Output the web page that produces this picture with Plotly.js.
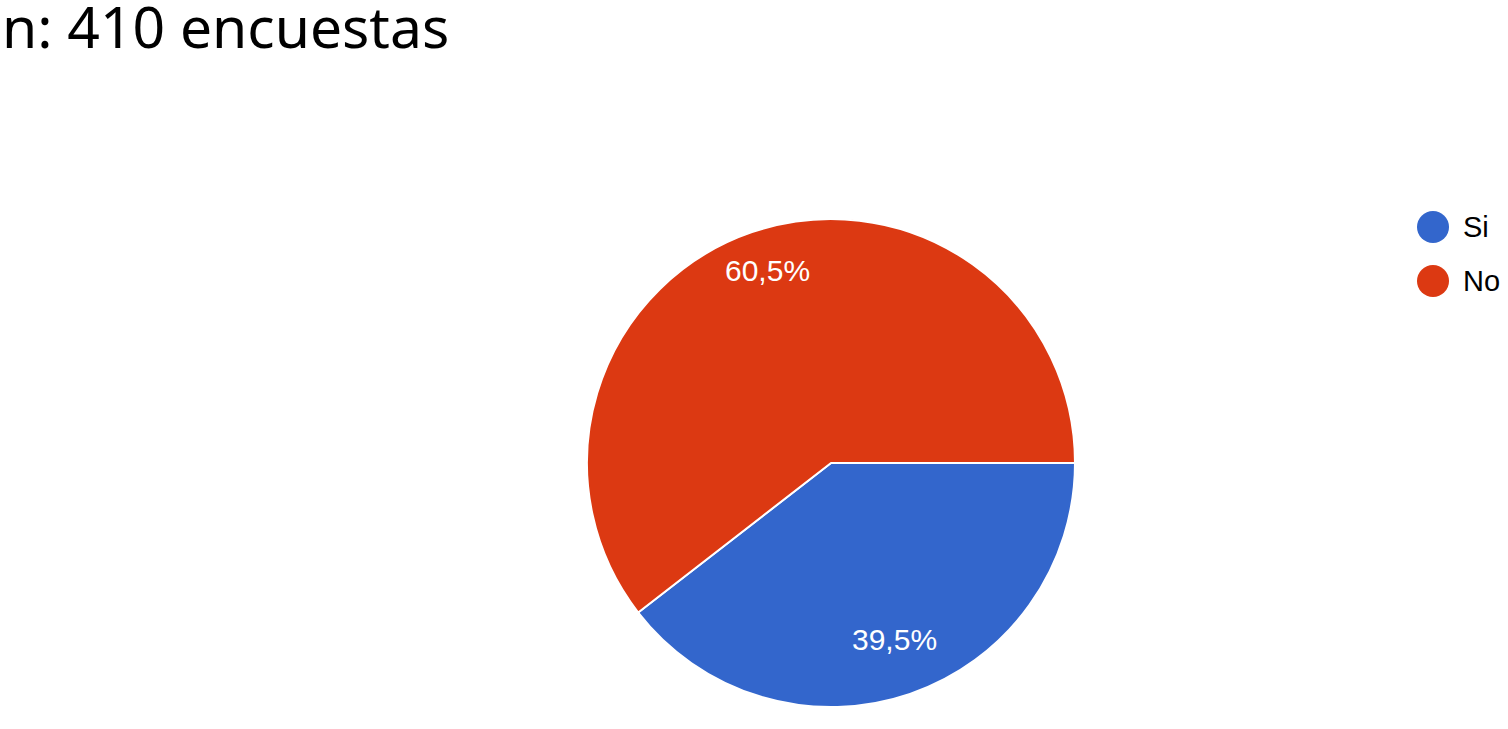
<!DOCTYPE html>
<html>
<head>
<meta charset="utf-8">
<script src="https://cdn.plot.ly/plotly-3.0.1.min.js"></script>
<style>html,body{margin:0;padding:0;background:#fff;}#chart{width:1508px;height:729px;}</style>
</head>
<body>
<div id="chart"></div>
<script>
const categories = ["Si", "No"];
const values = [39.5, 60.5];
const colors = ["#3366CC", "#DC3912"];
const titleText = "n: 410 encuestas";

const W = 1508, H = 729;
const cx = 831, cy = 463, R = 244;
const startDeg = 0;          // 3 o'clock, clockwise
const labelFrac = 0.8;

const pie = {
  type: "pie",
  labels: categories,
  values: values,
  sort: false,
  direction: "clockwise",
  rotation: 90,
  marker: { colors: colors, line: { color: "#ffffff", width: 2 } },
  textinfo: "none",
  hoverinfo: "label+percent",
  showlegend: false,
  domain: { x: [(cx - R) / W, (cx + R) / W], y: [(H - cy - R) / H, (H - cy + R) / H] }
};

const shapes = [];
const annotations = [];
const total = values.reduce((a, b) => a + b, 0);
const sep = (v) => (v).toFixed(1).replace(".", ",");
let acc = 0;
values.forEach((v, i) => {
  const mid = startDeg + (acc + v / 2) / total * 360;   // degrees clockwise from east
  acc += v;
  const rad = mid * Math.PI / 180;
  const px = cx + labelFrac * R * Math.cos(rad);
  const py = cy - 8 + labelFrac * R * Math.sin(rad);
  annotations.push({
    xref: "paper", yref: "paper", x: px / W, y: 1 - py / H,
    xanchor: "center", yanchor: "middle", showarrow: false,
    text: sep(v / total * 100) + "%",
    font: { family: "Liberation Sans, Arial, sans-serif", size: 30, color: "#ffffff" }
  });
});

categories.forEach((c, i) => {
  const ly = 1 - (227 + 54 * i) / H;
  shapes.push({
    type: "circle", xref: "paper", yref: "paper",
    xsizemode: "pixel", ysizemode: "pixel",
    xanchor: 1433 / W, yanchor: ly,
    x0: -16, x1: 16, y0: -16, y1: 16,
    fillcolor: colors[i], line: { width: 0 }
  });
  annotations.push({
    xref: "paper", yref: "paper", x: 1461 / W, y: ly,
    xanchor: "left", yanchor: "middle", showarrow: false,
    text: c, font: { family: "Liberation Sans, Arial, sans-serif", size: 29, color: "#000000" }
  });
});

const layout = {
  width: W, height: H,
  margin: { l: 0, r: 0, t: 0, b: 0 },
  paper_bgcolor: "#ffffff",
  separators: ",.",
  showlegend: false,
  title: {
    text: titleText,
    x: 2 / W, xref: "container", xanchor: "left",
    y: 1 - 8 / H, yref: "container", yanchor: "top",
    font: { family: "Noto Sans, sans-serif", size: 57, color: "#000000" }
  },
  shapes: shapes,
  annotations: annotations
};

Plotly.newPlot("chart", [pie], layout, { displayModeBar: false, staticPlot: true });
</script>
</body>
</html>
